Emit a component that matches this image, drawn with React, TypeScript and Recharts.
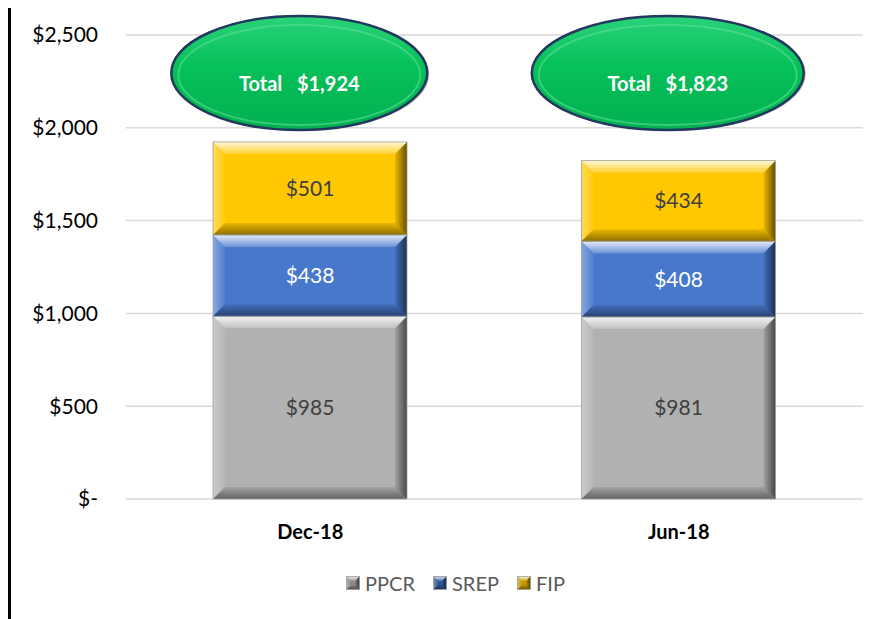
import React from "react";
import { Bar, BarChart, CartesianGrid, LabelList, Legend, ReferenceDot, XAxis, YAxis } from "recharts";

const periods = ["Dec-18", "Jun-18"];
const ppcr = [985, 981];
const srep = [438, 408];
const fip = [501, 434];
const yTicks = [0, 500, 1000, 1500, 2000, 2500];

const rows = periods.map((p, i) => ({ period: p, PPCR: ppcr[i], SREP: srep[i], FIP: fip[i] }));

const FONT = "Lato, 'Open Sans', sans-serif";
const OVAL_LEVEL = 2295; // where the total ovals sit, in axis units
const OVAL_RX = [128, 136];

const COLORS: Record<string, string> = { PPCR: "#b1b1b1", SREP: "#4878cc", FIP: "#ffc800" };
const MARKS: Record<string, string> = { PPCR: "#8a8a8a", SREP: "#2f5597", FIP: "#c79600" };

// bevel overlays, shared by bars and legend markers
function BevelDefs() {
  return (
    <defs>
      <linearGradient id="bvTop" x1="0" y1="0" x2="0" y2="1">
        <stop offset="0%" stopColor="#fff" stopOpacity={0.85} />
        <stop offset="100%" stopColor="#fff" stopOpacity={0.2} />
      </linearGradient>
      <linearGradient id="bvLeft" x1="0" y1="0" x2="1" y2="0">
        <stop offset="0%" stopColor="#fff" stopOpacity={0.35} />
        <stop offset="100%" stopColor="#fff" stopOpacity={0.05} />
      </linearGradient>
      <linearGradient id="bvRight" x1="0" y1="0" x2="1" y2="0">
        <stop offset="0%" stopColor="#000" stopOpacity={0.08} />
        <stop offset="100%" stopColor="#000" stopOpacity={0.6} />
      </linearGradient>
      <linearGradient id="bvBottom" x1="0" y1="0" x2="0" y2="1">
        <stop offset="0%" stopColor="#000" stopOpacity={0.08} />
        <stop offset="100%" stopColor="#000" stopOpacity={0.45} />
      </linearGradient>
      <linearGradient id="ovalFill" x1="0" y1="0" x2="0" y2="1">
        <stop offset="0%" stopColor="#2ad27a" />
        <stop offset="45%" stopColor="#06c058" />
        <stop offset="100%" stopColor="#03b050" />
      </linearGradient>
    </defs>
  );
}

function Bevel(props: any) {
  const { x, y, width: w, height: h, color, edge = 12 } = props;
  if (!h || h <= 0) return null;
  const b = Math.min(edge, h / 3);
  const pts = (a: number[][]) => a.map((p) => p.join(",")).join(" ");
  return (
    <g>
      <rect x={x} y={y} width={w} height={h} fill={color} />
      <polygon points={pts([[x, y], [x + w, y], [x + w - b, y + b], [x + b, y + b]])} fill="url(#bvTop)" />
      <polygon points={pts([[x, y], [x + b, y + b], [x + b, y + h - b], [x, y + h]])} fill="url(#bvLeft)" />
      <polygon points={pts([[x + w, y], [x + w, y + h], [x + w - b, y + h - b], [x + w - b, y + b]])} fill="url(#bvRight)" />
      <polygon points={pts([[x, y + h], [x + b, y + h - b], [x + w - b, y + h - b], [x + w, y + h]])} fill="url(#bvBottom)" />
      <rect x={x} y={y} width={w} height={h} fill="none" stroke="#a0a0a0" strokeWidth={0.8} />
    </g>
  );
}

function Oval(props: any) {
  const { cx, cy, idx } = props;
  const rx = OVAL_RX[idx];
  const ry = 57;
  const total = ppcr[idx] + srep[idx] + fip[idx];
  return (
    <g>
      <ellipse cx={cx + 2} cy={cy + 1} rx={rx} ry={ry} fill="#0b2a1a" opacity={0.3} />
      <ellipse cx={cx} cy={cy} rx={rx} ry={ry} fill="url(#ovalFill)" stroke="#22385f" strokeWidth={2.5} />
      <ellipse cx={cx} cy={cy + 2} rx={rx - 7} ry={ry - 7} fill="none" stroke="#5fe09a" strokeWidth={2} opacity={0.55} />
      <text
        x={cx}
        y={cy + 10}
        textAnchor="middle"
        dominantBaseline="central"
        fill="#ffffff"
        fontFamily={FONT}
        fontWeight={700}
        fontSize={20}
        style={{ whiteSpace: "pre" }}
      >
        {`Total   $${total.toLocaleString("en-US")}`}
      </text>
    </g>
  );
}

function LegendBox() {
  const keys = ["PPCR", "SREP", "FIP"];
  return (
    <div style={{ display: "flex", justifyContent: "center", alignItems: "center", height: 30, fontFamily: FONT, fontSize: 20, color: "#595959" }}>
      {keys.map((k) => (
        <span key={k} style={{ display: "flex", alignItems: "center", margin: "0 9px" }}>
          <svg width={14} height={14} style={{ marginRight: 5 }}>
            <Bevel x={0.5} y={0.5} width={13} height={13} color={MARKS[k]} edge={5} />
          </svg>
          {k}
        </span>
      ))}
    </div>
  );
}

const money = (v: number) => (v === 0 ? "$-" : "$" + v.toLocaleString("en-US"));

export default function App() {
  return (
    <div style={{ position: "relative", width: 873, height: 611, background: "#fff" }}>
      <div style={{ position: "absolute", left: 0, top: -3, right: 0, bottom: 0, borderLeft: "3px solid #000", borderTop: "3px solid #000" }} />
      <BarChart width={873} height={611} data={rows} margin={{ top: 27, right: 18, left: 0, bottom: 0 }} barSize={194}>
        <BevelDefs />
        <CartesianGrid vertical={false} stroke="#d9d9d9" strokeWidth={1.5} />
        <XAxis
          dataKey="period"
          height={90}
          axisLine={false}
          tickLine={false}
          tickSize={0}
          tickMargin={26}
          tick={{ fill: "#000", fontFamily: FONT, fontWeight: 700, fontSize: 20 }}
        />
        <YAxis
          width={118}
          domain={[0, 2500]}
          ticks={yTicks}
          axisLine={false}
          tickLine={false}
          tickSize={0}
          tickMargin={28}
          tickFormatter={money}
          tick={{ fill: "#000", fontFamily: FONT, fontSize: 21 }}
        />
        <Bar dataKey="PPCR" stackId="a" fill={COLORS.PPCR} isAnimationActive={false} shape={(p: any) => <Bevel {...p} color={COLORS.PPCR} />}>
          <LabelList dataKey="PPCR" position="center" formatter={(v: any) => money(Number(v))} fill="#404040" fontFamily={FONT} fontSize={21} />
        </Bar>
        <Bar dataKey="SREP" stackId="a" fill={COLORS.SREP} isAnimationActive={false} shape={(p: any) => <Bevel {...p} color={COLORS.SREP} />}>
          <LabelList dataKey="SREP" position="center" formatter={(v: any) => money(Number(v))} fill="#ffffff" fontFamily={FONT} fontSize={21} />
        </Bar>
        <Bar dataKey="FIP" stackId="a" fill={COLORS.FIP} isAnimationActive={false} shape={(p: any) => <Bevel {...p} color={COLORS.FIP} />}>
          <LabelList dataKey="FIP" position="center" formatter={(v: any) => money(Number(v))} fill="#404040" fontFamily={FONT} fontSize={21} />
        </Bar>
        {periods.map((p, i) => (
          <ReferenceDot key={p} x={p} y={OVAL_LEVEL} r={0} shape={(s: any) => <Oval {...s} cx={s.cx - 11} idx={i} />} />
        ))}
        <Legend verticalAlign="bottom" height={30} wrapperStyle={{ bottom: 21, left: 20 }} content={<LegendBox />} />
      </BarChart>
    </div>
  );
}
